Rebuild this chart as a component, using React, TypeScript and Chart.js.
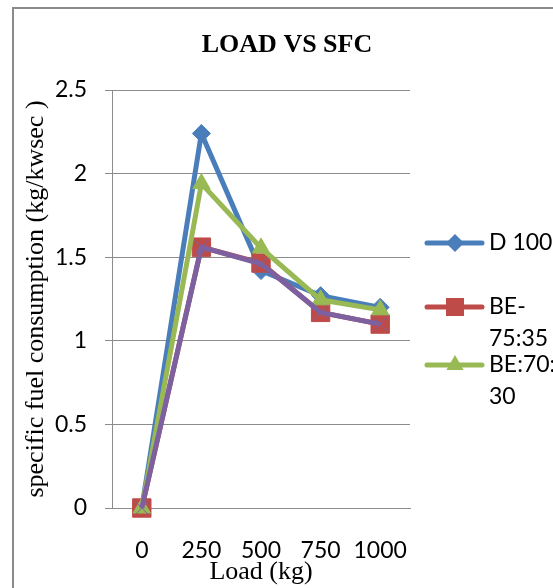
import React, { useEffect, useRef } from 'react';
import { Chart, registerables } from 'chart.js';

Chart.register(...registerables);

const loads = ['0', '250', '500', '750', '1000'];
const d100 = [0, 2.24, 1.42, 1.27, 1.2];
const be7535 = [0, 1.56, 1.465, 1.17, 1.1];
const be7030 = [0, 1.94, 1.555, 1.245, 1.185];
const series4 = [0, 1.56, 1.46, 1.17, 1.1];
const legendNames = [['D 100'], ['BE-', '75:35'], ['BE:70:', '30']];
const seriesColors = ['#4A7EBB', '#BE4B48', '#98B954', '#7D60A0'];
const chartTitle = 'LOAD VS SFC';
const yTitle = 'specific fuel consumption (kg/kwsec )';
const xTitle = 'Load (kg)';

const SANS = 'Lato, "Open Sans", sans-serif';
const SERIF = '"Liberation Serif", "DejaVu Serif", serif';

const markerShapes = ['diamond', 'square', 'triangle'];

function drawMarker(ctx: CanvasRenderingContext2D, shape: string, x: number, y: number, color: string) {
  ctx.save();
  ctx.fillStyle = color;
  ctx.beginPath();
  if (shape === 'diamond') {
    const r = 9;
    ctx.moveTo(x, y - r);
    ctx.lineTo(x + r, y);
    ctx.lineTo(x, y + r);
    ctx.lineTo(x - r, y);
  } else if (shape === 'square') {
    const h = 9;
    ctx.rect(x - h, y - h, 2 * h, 2 * h);
  } else {
    const r = 10;
    ctx.moveTo(x, y - r);
    ctx.lineTo(x + r * 0.866, y + r * 0.5);
    ctx.lineTo(x - r * 0.866, y + r * 0.5);
  }
  ctx.closePath();
  ctx.fill();
  ctx.restore();
}

const framePlugin = {
  id: 'framePlugin',
  beforeDraw(chart: any) {
    const ctx = chart.ctx as CanvasRenderingContext2D;
    ctx.save();
    ctx.fillStyle = '#ffffff';
    ctx.fillRect(0, 0, chart.width, chart.height);
    ctx.fillStyle = '#8a8a8a';
    ctx.fillRect(12, 7, 2, chart.height - 7);
    ctx.fillRect(12, 7, chart.width - 12, 2);
    ctx.restore();
  },
  afterDraw(chart: any) {
    const ctx = chart.ctx as CanvasRenderingContext2D;
    const area = chart.chartArea;
    ctx.save();
    // title
    ctx.fillStyle = '#000';
    ctx.font = `bold 26px ${SERIF}`;
    ctx.textAlign = 'center';
    ctx.textBaseline = 'middle';
    ctx.fillText(chartTitle, 287, 45);
    // legend
    const lx = area.right + 17;
    const firstLineY = [243, 307, 365];
    ctx.font = `23px ${SANS}`;
    ctx.textAlign = 'left';
    legendNames.forEach((lines, i) => {
      const y = firstLineY[i];
      const color = seriesColors[i];
      ctx.strokeStyle = color;
      ctx.lineWidth = 5;
      ctx.lineCap = 'round';
      ctx.beginPath();
      ctx.moveTo(lx, y);
      ctx.lineTo(lx + 55, y);
      ctx.stroke();
      drawMarker(ctx, markerShapes[i], lx + 28, y, color);
      ctx.fillStyle = '#000';
      lines.forEach((t, j) => {
        ctx.fillText(t, lx + 62, y + j * 32);
      });
    });
    ctx.restore();
  },
};

export default function App() {
  const ref = useRef<HTMLCanvasElement | null>(null);
  useEffect(() => {
    if (!ref.current) return;
    const mk = (label: string, data: number[], color: string, style: string, radius: number, order: number, extra: any = {}) => ({
      label,
      data,
      borderColor: color,
      backgroundColor: color,
      pointBackgroundColor: color,
      pointBorderColor: color,
      borderWidth: 5,
      pointStyle: style,
      pointRadius: radius,
      pointBorderWidth: 1,
      tension: 0,
      clip: false,
      order,
      ...extra,
    });
    const chart = new Chart(ref.current, {
      type: 'line',
      data: {
        labels: loads,
        datasets: [
          mk(legendNames[0].join(''), d100, seriesColors[0], 'rectRot', 9, 4),
          mk(legendNames[1].join(''), be7535, seriesColors[1], 'rect', 13, 3),
          mk(legendNames[2].join(''), be7030, seriesColors[2], 'triangle', 10, 2),
          mk('Series4', series4, seriesColors[3], 'crossRot', 10, 1, { pointBorderWidth: 1 }),
        ],
      },
      options: {
        animation: false,
        responsive: true,
        maintainAspectRatio: false,
        layout: { padding: { top: 90, right: 143, left: 0, bottom: 0 } },
        plugins: {
          legend: { display: false },
          title: { display: false },
          tooltip: { enabled: false },
        },
        scales: {
          x: {
            type: 'category',
            offset: true,
            grid: { display: false, drawTicks: false },
            border: { display: true, color: '#8c8c8c', width: 1 },
            ticks: { color: '#000', font: { family: SANS, size: 23 }, padding: 29, maxRotation: 0, autoSkip: false },
            title: { display: true, text: xTitle, color: '#000', font: { family: SERIF, size: 26 }, padding: { top: 0, bottom: 0 } },
            afterFit: (s: any) => { s.height = 80; },
          },
          y: {
            min: 0,
            max: 2.5,
            ticks: {
              stepSize: 0.5,
              color: '#000',
              font: { family: SANS, size: 23 },
              padding: 18,
              callback: (v: any) => String(v),
            },
            grid: { color: '#8c8c8c', lineWidth: 1, tickLength: 7, drawTicks: true },
            border: { display: true, color: '#8c8c8c', width: 1 },
            title: { display: true, text: yTitle, color: '#000', font: { family: SERIF, size: 26 }, padding: { top: 21, bottom: 0 } },
            afterFit: (s: any) => { s.width = 112; },
          },
        },
      },
      plugins: [framePlugin],
    });
    return () => chart.destroy();
  }, []);
  return (
    <div style={{ position: 'fixed', left: 0, top: 0, width: 553, height: 588 }}>
      <canvas ref={ref} />
    </div>
  );
}
